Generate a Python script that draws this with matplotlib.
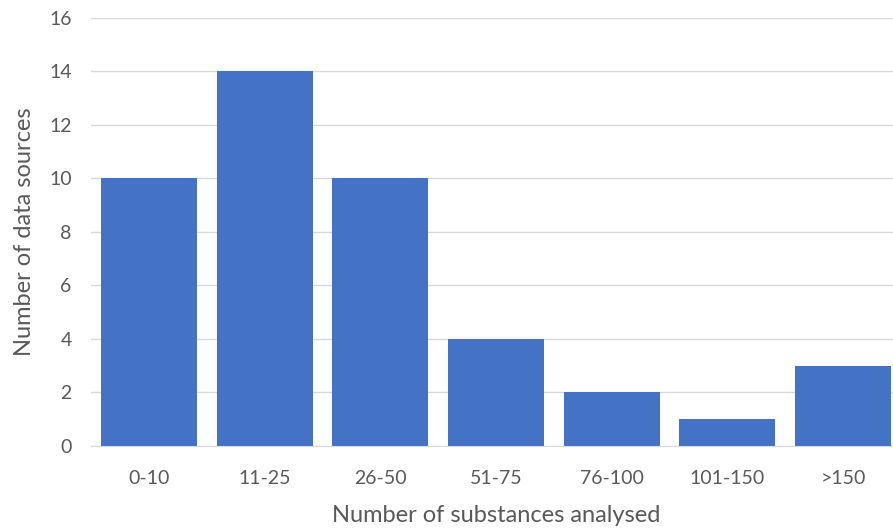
import matplotlib.pyplot as plt
import numpy as np

categories = ["0-10", "11-25", "26-50", "51-75", "76-100", "101-150", ">150"]
counts = [10, 14, 10, 4, 2, 1, 3]

plt.rcParams['font.family'] = ['Lato', 'DejaVu Sans']
text_color = '#595959'

fig = plt.figure(figsize=(8.93, 5.32), dpi=100)
# the original is cropped on the right, so the axes run past the figure edge
ax = fig.add_axes([0.102, 0.1617, 0.907, 0.805])

x = np.arange(len(categories))
ax.bar(x, counts, width=0.83, color='#4472C4', zorder=2)

ax.set_xlim(-0.5, len(categories) - 0.5)
ax.set_ylim(0, 16)
ax.set_yticks(range(0, 17, 2))
ax.set_xticks(x)
ax.set_xticklabels(categories)

ax.yaxis.grid(True, color='#d9d9d9', linewidth=1, zorder=0)
for side in ['top', 'right', 'left']:
    ax.spines[side].set_visible(False)
ax.spines['bottom'].set_color('#d9d9d9')
ax.tick_params(axis='both', length=0, labelsize=14, labelcolor=text_color)
ax.tick_params(axis='x', pad=17)
ax.tick_params(axis='y', pad=14)

ax.set_xlabel('Number of substances analysed', fontsize=17, color=text_color, labelpad=13)
ax.set_ylabel('Number of data sources', fontsize=17, color=text_color, labelpad=10)

plt.savefig('out.png', dpi=100)
plt.close()
